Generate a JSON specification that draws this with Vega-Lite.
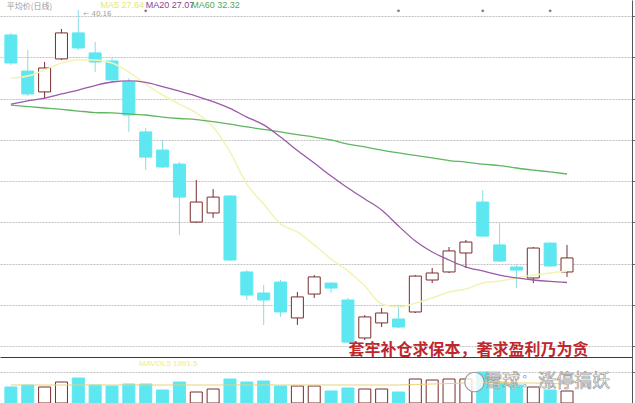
{
  "$schema": "https://vega.github.io/schema/vega-lite/v6.json",
  "padding": 0,
  "bounds": "flush",
  "spacing": 0,
  "background": "#ffffff",
  "config": {
    "view": {"stroke": null},
    "axis": {"labels": false, "ticks": false, "domain": false, "grid": false, "title": null}
  },
  "datasets": {
    "k": [
      {"i":0,"o":39.08,"c":37.72,"h":39.18,"l":37.62,"d":"down","ma5":36.99,"ma20":35.73,"ma60":35.68,"v":1600,"vma":1800},
      {"i":1,"o":37.33,"c":36.22,"h":38.35,"l":36.12,"d":"down","ma5":37.09,"ma20":35.88,"ma60":35.61,"v":1800,"vma":1800},
      {"i":2,"o":36.32,"c":37.48,"h":37.77,"l":35.98,"d":"up","ma5":37.38,"ma20":36.02,"ma60":35.54,"v":1600,"vma":1800},
      {"i":3,"o":37.92,"c":39.18,"h":39.37,"l":37.87,"d":"up","ma5":37.72,"ma20":36.22,"ma60":35.47,"v":2100,"vma":1800},
      {"i":4,"o":39.18,"c":38.45,"h":40.29,"l":38.35,"d":"down","ma5":37.87,"ma20":36.41,"ma60":35.39,"v":2500,"vma":1800},
      {"i":5,"o":38.21,"c":37.77,"h":38.74,"l":37.28,"d":"down","ma5":37.87,"ma20":36.63,"ma60":35.32,"v":1800,"vma":1800},
      {"i":6,"o":37.82,"c":36.90,"h":37.96,"l":36.80,"d":"down","ma5":37.72,"ma20":36.80,"ma60":35.30,"v":1700,"vma":1800},
      {"i":7,"o":36.80,"c":35.20,"h":36.99,"l":34.38,"d":"down","ma5":37.28,"ma20":36.85,"ma60":35.25,"v":1900,"vma":1800},
      {"i":8,"o":34.38,"c":33.16,"h":34.57,"l":32.53,"d":"down","ma5":36.70,"ma20":36.78,"ma60":35.20,"v":1900,"vma":1800},
      {"i":9,"o":33.50,"c":32.68,"h":33.99,"l":32.63,"d":"down","ma5":36.17,"ma20":36.58,"ma60":35.10,"v":1300,"vma":1800},
      {"i":10,"o":32.82,"c":31.22,"h":32.92,"l":29.38,"d":"down","ma5":35.73,"ma20":36.36,"ma60":35.03,"v":2100,"vma":1800},
      {"i":11,"o":30.01,"c":30.98,"h":32.05,"l":29.96,"d":"up","ma5":35.30,"ma20":36.12,"ma60":34.98,"v":1100,"vma":1800},
      {"i":12,"o":30.45,"c":31.22,"h":31.61,"l":30.21,"d":"up","ma5":34.62,"ma20":35.85,"ma60":34.88,"v":1400,"vma":1800},
      {"i":13,"o":31.27,"c":28.17,"h":31.32,"l":28.12,"d":"down","ma5":33.41,"ma20":35.52,"ma60":34.76,"v":2400,"vma":1800},
      {"i":14,"o":27.59,"c":26.47,"h":27.68,"l":26.23,"d":"down","ma5":31.85,"ma20":35.10,"ma60":34.62,"v":2100,"vma":1800},
      {"i":15,"o":26.57,"c":26.23,"h":26.96,"l":25.02,"d":"down","ma5":30.88,"ma20":34.72,"ma60":34.50,"v":2200,"vma":1800},
      {"i":16,"o":27.10,"c":25.65,"h":27.20,"l":25.41,"d":"down","ma5":29.92,"ma20":34.13,"ma60":34.38,"v":1700,"vma":1800},
      {"i":17,"o":25.36,"c":26.38,"h":26.62,"l":25.02,"d":"up","ma5":29.53,"ma20":33.48,"ma60":34.25,"v":1700,"vma":1800},
      {"i":18,"o":26.52,"c":27.35,"h":27.44,"l":26.33,"d":"up","ma5":28.90,"ma20":32.87,"ma60":34.13,"v":1700,"vma":1800},
      {"i":19,"o":27.05,"c":26.81,"h":27.10,"l":26.57,"d":"down","ma5":28.22,"ma20":32.24,"ma60":33.99,"v":1200,"vma":1800},
      {"i":20,"o":26.23,"c":24.19,"h":26.33,"l":24.15,"d":"down","ma5":27.64,"ma20":31.66,"ma60":33.79,"v":1500,"vma":1800},
      {"i":21,"o":24.39,"c":25.41,"h":25.50,"l":24.29,"d":"up","ma5":26.91,"ma20":31.13,"ma60":33.65,"v":1400,"vma":1800},
      {"i":22,"o":25.12,"c":25.60,"h":25.84,"l":24.92,"d":"up","ma5":26.04,"ma20":30.59,"ma60":33.50,"v":1400,"vma":1800},
      {"i":23,"o":25.31,"c":24.92,"h":25.99,"l":24.87,"d":"down","ma5":25.89,"ma20":29.82,"ma60":33.36,"v":1100,"vma":1800},
      {"i":24,"o":25.65,"c":27.39,"h":27.44,"l":25.60,"d":"up","ma5":26.08,"ma20":29.09,"ma60":33.24,"v":2400,"vma":1850},
      {"i":25,"o":27.20,"c":27.54,"h":27.78,"l":27.05,"d":"up","ma5":26.33,"ma20":28.56,"ma60":33.12,"v":2300,"vma":1900},
      {"i":26,"o":27.59,"c":28.61,"h":28.80,"l":27.54,"d":"up","ma5":26.62,"ma20":28.17,"ma60":32.99,"v":2400,"vma":1950},
      {"i":27,"o":28.51,"c":29.04,"h":29.14,"l":27.78,"d":"up","ma5":26.76,"ma20":27.83,"ma60":32.92,"v":2400,"vma":2000},
      {"i":28,"o":30.98,"c":29.33,"h":31.56,"l":29.29,"d":"down","ma5":27.05,"ma20":27.64,"ma60":32.82,"v":3100,"vma":2050},
      {"i":29,"o":28.90,"c":28.12,"h":29.96,"l":28.07,"d":"down","ma5":27.15,"ma20":27.44,"ma60":32.75,"v":2100,"vma":2050},
      {"i":30,"o":27.83,"c":27.68,"h":27.93,"l":26.81,"d":"down","ma5":27.30,"ma20":27.30,"ma60":32.63,"v":1800,"vma":2000},
      {"i":31,"o":27.30,"c":28.75,"h":28.80,"l":27.05,"d":"up","ma5":27.44,"ma20":27.20,"ma60":32.53,"v":1600,"vma":2000},
      {"i":32,"o":28.99,"c":27.88,"h":29.04,"l":27.83,"d":"down","ma5":27.54,"ma20":27.13,"ma60":32.44,"v":1300,"vma":1950},
      {"i":33,"o":27.59,"c":28.27,"h":28.90,"l":27.35,"d":"up","ma5":27.64,"ma20":27.08,"ma60":32.34,"v":1200,"vma":1900}
    ]
  },
  "vconcat": [
    {
      "width": 632,
      "height": 357,
      "encoding": {
        "x": {"type": "quantitative", "scale": {"domain": [-0.35, 36.56], "nice": false, "zero": false}, "axis": null},
        "y": {"type": "quantitative", "scale": {"domain": [23.467, 40.776], "nice": false, "zero": false},
              "axis": {"orient": "right", "values": [24, 26, 28, 30, 32, 34, 36, 38, 40], "grid": true, "gridColor": "#c2c2c2", "gridDash": [2, 1], "gridWidth": 1, "domain": true, "domainColor": "#555555", "ticks": true, "tickSize": 3, "tickColor": "#666666", "labels": false, "title": null}}
      },
      "layer": [
        {
          "data": {"name": "k"},
          "mark": {"type": "rule", "strokeWidth": 1},
          "encoding": {
            "x": {"field": "i"},
            "y": {"field": "l"},
            "y2": {"field": "h"},
            "color": {"field": "d", "type": "nominal", "scale": {"domain": ["up", "down"], "range": ["#7b2c2c", "#8adde4"]}, "legend": null}
          }
        },
        {
          "data": {"name": "k"},
          "mark": {"type": "bar", "width": 12, "orient": "vertical", "strokeWidth": 1},
          "encoding": {
            "x": {"field": "i"},
            "y": {"field": "o"},
            "y2": {"field": "c"},
            "fill": {"field": "d", "type": "nominal", "scale": {"domain": ["up", "down"], "range": ["#ffffff", "#5de7f1"]}, "legend": null},
            "stroke": {"field": "d", "type": "nominal", "scale": {"domain": ["up", "down"], "range": ["#7b2c2c", "#5de7f1"]}, "legend": null}
          }
        },
        {
          "data": {"name": "k"},
          "mark": {"type": "line", "color": "#f3f3b4", "strokeWidth": 1.5, "interpolate": "monotone"},
          "encoding": {"x": {"field": "i"}, "y": {"field": "ma5"}}
        },
        {
          "data": {"name": "k"},
          "mark": {"type": "line", "color": "#5fb65f", "strokeWidth": 1.3, "interpolate": "monotone"},
          "encoding": {"x": {"field": "i"}, "y": {"field": "ma60"}}
        },
        {
          "data": {"name": "k"},
          "mark": {"type": "line", "color": "#9a5aa8", "strokeWidth": 1.3, "interpolate": "monotone"},
          "encoding": {"x": {"field": "i"}, "y": {"field": "ma20"}}
        },
        {
          "data": {"values": [{"i": 8, "p": 40.25}, {"i": 23, "p": 40.25}, {"i": 28, "p": 40.25}, {"i": 32, "p": 40.25}]},
          "mark": {"type": "point", "shape": "circle", "filled": true, "size": 8, "color": "#6a3a6a", "clip": true},
          "encoding": {"x": {"field": "i"}, "y": {"field": "p"}}
        },
        {
          "data": {"values": [{"i": -0.25, "p": 40.34, "t": "平均价(日线)"}]},
          "mark": {"type": "text", "align": "left", "baseline": "alphabetic", "font": "Noto Sans CJK SC", "fontSize": 8, "color": "#9a9a9a", "clip": true},
          "encoding": {"x": {"field": "i"}, "y": {"field": "p"}, "text": {"field": "t"}}
        },
        {
          "data": {"values": [{"i": 5.32, "p": 40.39, "t": "MA5 27.64"}]},
          "mark": {"type": "text", "align": "left", "baseline": "alphabetic", "font": "Liberation Sans", "fontSize": 9, "color": "#e6e67a", "clip": true},
          "encoding": {"x": {"field": "i"}, "y": {"field": "p"}, "text": {"field": "t"}}
        },
        {
          "data": {"values": [{"i": 8.0, "p": 40.39, "t": "MA20 27.07"}]},
          "mark": {"type": "text", "align": "left", "baseline": "alphabetic", "font": "Liberation Sans", "fontSize": 9, "color": "#8a3e98", "clip": true},
          "encoding": {"x": {"field": "i"}, "y": {"field": "p"}, "text": {"field": "t"}}
        },
        {
          "data": {"values": [{"i": 10.7, "p": 40.39, "t": "MA60 32.32"}]},
          "mark": {"type": "text", "align": "left", "baseline": "alphabetic", "font": "Liberation Sans", "fontSize": 9, "color": "#55a855", "clip": true},
          "encoding": {"x": {"field": "i"}, "y": {"field": "p"}, "text": {"field": "t"}}
        },
        {
          "data": {"values": [{"i": 4.3, "p": 40.08, "t": "← 40.16"}]},
          "mark": {"type": "text", "align": "left", "baseline": "middle", "font": "DejaVu Sans", "fontSize": 7, "color": "#a0a0a0", "clip": true},
          "encoding": {"x": {"field": "i"}, "y": {"field": "p"}, "text": {"field": "t"}}
        },
        {
          "data": {"values": [{"i": 27.16, "p": 23.8, "t": "套牢补仓求保本，奢求盈利乃为贪"}]},
          "mark": {"type": "text", "align": "center", "baseline": "middle", "font": "Noto Sans CJK SC", "fontSize": 16, "fontWeight": "bold", "color": "#c0272d", "clip": true},
          "encoding": {"x": {"field": "i"}, "y": {"field": "p"}, "text": {"field": "t"}}
        }
      ]
    },
    {
      "width": 632,
      "height": 46,
      "encoding": {
        "x": {"type": "quantitative", "scale": {"domain": [-0.35, 36.56], "nice": false, "zero": false},
              "axis": {"orient": "top", "domain": true, "domainColor": "#3a3a3a", "domainWidth": 1.2, "labels": false, "ticks": false, "grid": false, "title": null}},
        "y": {"type": "quantitative", "scale": {"domain": [0, 4600], "nice": false, "zero": true},
              "axis": {"orient": "right", "values": [3100], "grid": true, "gridColor": "#c4c4c4", "gridDash": [2, 1], "domain": true, "domainColor": "#555555", "ticks": true, "tickSize": 3, "tickColor": "#666666", "labels": false, "title": null}}
      },
      "layer": [
        {
          "data": {"name": "k"},
          "mark": {"type": "bar", "width": 12, "orient": "vertical", "strokeWidth": 1},
          "encoding": {
            "x": {"field": "i"},
            "y": {"field": "v"},
            "fill": {"field": "d", "type": "nominal", "scale": {"domain": ["up", "down"], "range": ["#ffffff", "#5de7f1"]}, "legend": null},
            "stroke": {"field": "d", "type": "nominal", "scale": {"domain": ["up", "down"], "range": ["#7b2c2c", "#5de7f1"]}, "legend": null}
          }
        },
        {
          "data": {"name": "k"},
          "mark": {"type": "line", "color": "#e9d27a", "strokeWidth": 1},
          "encoding": {"x": {"field": "i"}, "y": {"field": "vma"}}
        },
        {
          "data": {"values": [{"i": 7.6, "v": 3900, "t": "MAVOL5 1861.5"}]},
          "mark": {"type": "text", "align": "left", "baseline": "middle", "font": "Liberation Sans", "fontSize": 8, "color": "#eeee80", "clip": true},
          "encoding": {"x": {"field": "i"}, "y": {"field": "v"}, "text": {"field": "t"}}
        },
        {
          "data": {"values": [{"i": 27.51, "v": 2100}]},
          "mark": {"type": "point", "shape": "circle", "size": 380, "filled": true, "fill": "#ffffff", "fillOpacity": 0.8, "stroke": "#9a9a9a", "strokeWidth": 1.2, "clip": true},
          "encoding": {"x": {"field": "i"}, "y": {"field": "v"}}
        },
        {
          "data": {"values": [{"i": 31.83, "v": 2100, "t": "雪球：涨停搞妖"}]},
          "mark": {"type": "text", "align": "center", "baseline": "middle", "font": "Noto Sans CJK SC", "fontSize": 18, "fill": "#ffffff", "fillOpacity": 0.9, "stroke": "#9a9a9a", "strokeWidth": 0.7, "clip": true},
          "encoding": {"x": {"field": "i"}, "y": {"field": "v"}, "text": {"field": "t"}}
        }
      ]
    }
  ]
}
